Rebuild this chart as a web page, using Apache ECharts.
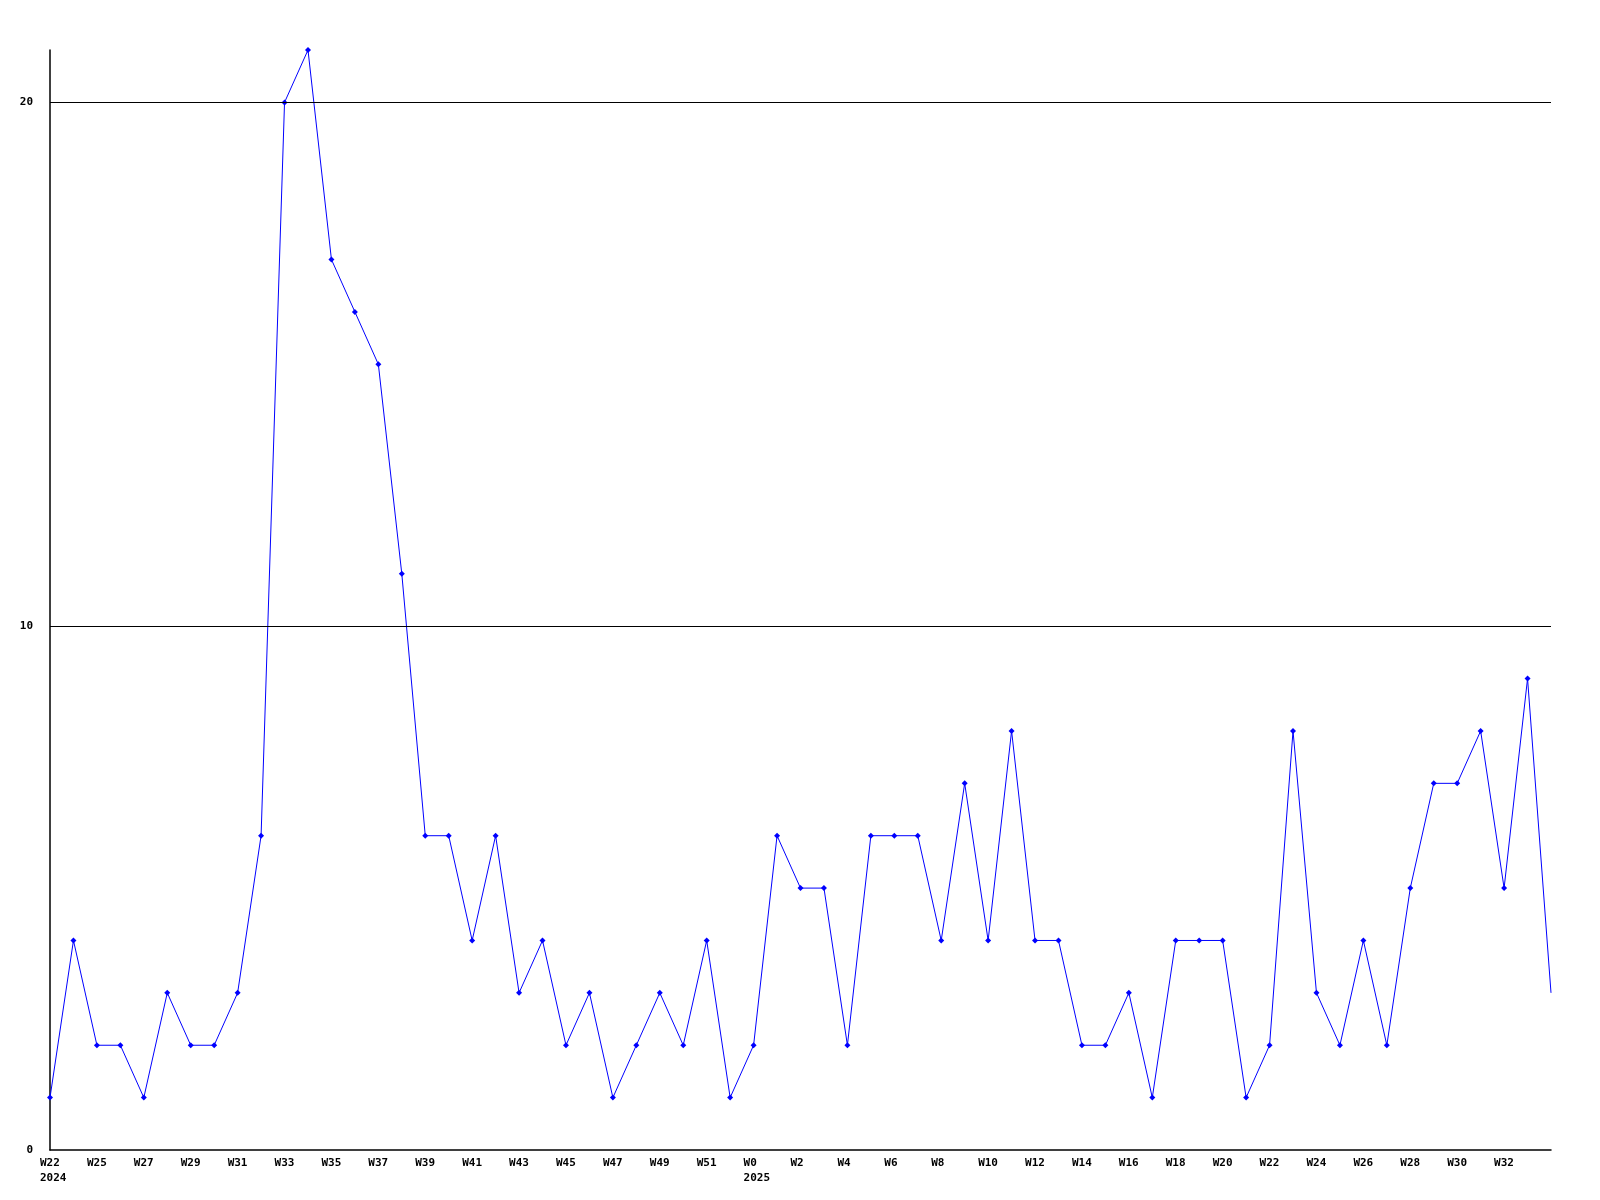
<!DOCTYPE html>
<html>
<head>
<meta charset="utf-8">
<script src="https://cdn.jsdelivr.net/npm/echarts@6/dist/echarts.min.js"></script>
<style>html,body{margin:0;padding:0;background:#fff}#c{width:1600px;height:1200px}</style>
</head>
<body>
<div id="c"></div>
<script>
const weeks = ['W23','W24','W25','W26','W27','W28','W29','W30','W31','W32','W33','W34','W35','W36','W37','W38','W39','W40','W41','W42','W43','W44','W45','W46','W47','W48','W49','W50','W51','W52',
  'W0','W1','W2','W3','W4','W5','W6','W7','W8','W9','W10','W11','W12','W13','W14','W15','W16','W17','W18','W19','W20','W21','W22','W23','W24','W25','W26','W27','W28','W29','W30','W31','W32','W33','W34'];
const counts = [1,4,2,2,1,3,2,2,3,6,20,21,17,16,15,11,6,6,4,6,3,4,2,3,1,2,3,2,4,1,
  2,6,5,5,2,6,6,6,4,7,4,8,4,4,2,2,3,1,4,4,4,1,2,8,3,2,4,2,5,7,7,8,5,9,3];
const labelOverrides = {0: ['W22', '2024'], 30: ['W0', '2025']};
const gridValues = [10, 20];

const fontFam = '"DejaVu Sans Mono", "Liberation Mono", monospace';
const chart = echarts.init(document.getElementById('c'), null, {renderer: 'canvas'});
const data = counts.map((v, i) => i === counts.length - 1 ? {value: v, symbol: 'none'} : v);
chart.setOption({
  animation: false,
  backgroundColor: '#ffffff',
  grid: {left: 50, right: 49, top: 50, bottom: 50, containLabel: false},
  xAxis: {
    type: 'category', data: weeks, boundaryGap: false,
    axisLine: {show: true, lineStyle: {color: '#000', width: 1.5}},
    axisTick: {show: false},
    splitLine: {show: false},
    axisLabel: {
      interval: 1, margin: 6, showMaxLabel: false,
      formatter: (val, idx) => {
        if (idx === weeks.length - 1) return '';
        const o = labelOverrides[idx];
        if (o) return '{a|' + o[0] + '}\n{a|' + o[1] + '}';
        return '{a|' + val + '}';
      },
      rich: {a: {width: 20, align: 'left', fontFamily: fontFam, fontWeight: 'bold', fontSize: 11, color: '#000', lineHeight: 15}}
    }
  },
  yAxis: {
    type: 'value', min: 0, max: 21, interval: 10,
    axisLine: {show: true, lineStyle: {color: '#000', width: 1.5}},
    axisTick: {show: false},
    splitLine: {show: false},
    axisLabel: {
      margin: 17, color: '#000', fontFamily: fontFam, fontWeight: 'bold', fontSize: 11,
      formatter: v => (v % 10 === 0 ? String(v) : '')
    }
  },
  series: [{
    type: 'line', data: data,
    symbol: 'diamond', symbolSize: 6,
    itemStyle: {color: '#0000ff'},
    lineStyle: {color: '#0000ff', width: 1},
    markLine: {
      silent: true, symbol: 'none', label: {show: false},
      lineStyle: {color: '#000', width: 1.2, type: 'solid'},
      data: gridValues.map(v => ({yAxis: v}))
    },
    z: 3
  }]
});
</script>
</body>
</html>
